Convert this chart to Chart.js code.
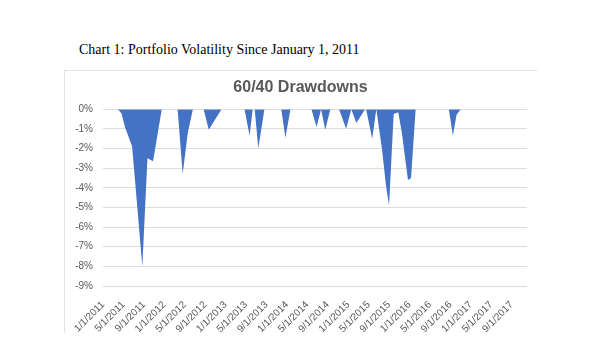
<!DOCTYPE html>
<html>
<head>
<meta charset="utf-8">
<script src="https://cdn.jsdelivr.net/npm/chart.js@4.4.1/dist/chart.umd.min.js"></script>
<style>
    body { margin: 0; background: #fff; }
    #caption {
        position: absolute; left: 79px; top: 42px;
        font-family: "Liberation Serif", "Times New Roman", serif;
        font-size: 14px; color: #000; white-space: nowrap;
    }
    #frame {
        position: absolute; left: 64px; top: 70px; width: 472px; height: 262px;
        border-left: 1px solid #e2e2e2; border-top: 1px solid #e2e2e2;
    }
    #wrap { position: absolute; left: 0; top: 0; width: 595px; height: 360px; }
</style>
</head>
<body>
<div id="caption">Chart 1: Portfolio Volatility Since January 1, 2011</div>
<div id="frame"></div>
<div id="wrap"><canvas id="chart"></canvas></div>
<script>
// x tick labels, every 4 months starting 1/1/2011
const tickLabels = [
    '1/1/2011', '5/1/2011', '9/1/2011', '1/1/2012', '5/1/2012', '9/1/2012',
    '1/1/2013', '5/1/2013', '9/1/2013', '1/1/2014', '5/1/2014', '9/1/2014',
    '1/1/2015', '5/1/2015', '9/1/2015', '1/1/2016', '5/1/2016', '9/1/2016',
    '1/1/2017', '5/1/2017', '9/1/2017'
];

// months elapsed since 1/1/2011 and drawdown (%)
const drawdownMonths = [
    0, 2.9, 3.6, 4.3, 5.7, 7.7, 8.7, 9.8, 11.5,
    14.6, 15.6, 16.6, 17.6,
    19.7, 20.7, 23.2,
    27.7, 28.7, 29.3, 29.7, 30.4, 31.6,
    34.9, 35.7, 36.7,
    40.8, 41.8, 42.7, 42.8, 43.5, 44.5,
    46.2, 47.6, 48.6, 48.7, 49.6, 51.3,
    51.5, 52.7, 53.5,
    53.6, 54.6, 55.4, 56.0, 56.9, 57.8, 58.5, 59.7, 60.3, 61.2,
    67.7, 68.5, 69.2, 70.0,
    83
];
const drawdownPct = [
    0, 0, -0.2, -0.9, -1.9, -8.0, -2.5, -2.65, 0,
    0, -3.3, -1.2, 0,
    0, -1.05, 0,
    0, -1.35, 0, 0, -2.0, 0,
    0, -1.45, 0,
    0, -0.9, 0, 0, -1.05, 0,
    0, -1.0, 0, 0, -0.7, 0,
    0, -1.5, 0,
    0, -2.0, -3.9, -4.9, -0.25, -0.15, -1.2, -3.6, -3.5, 0,
    0, -1.35, -0.3, 0,
    0
];

const yTicks = [0, -1, -2, -3, -4, -5, -6, -7, -8, -9];

const AXIS_GREY = '#595959';
const BLUE = '#4472C4';
const FONT = 'Liberation Sans, Arial, sans-serif';

const points = drawdownMonths.map((m, i) => ({ x: m, y: drawdownPct[i] }));

new Chart(document.getElementById('chart'), {
    type: 'line',
    data: {
        datasets: [{
            label: '60/40',
            data: points,
            fill: 'origin',
            backgroundColor: BLUE,
            borderColor: 'rgba(0,0,0,0)',
            borderWidth: 1,
            pointRadius: 0,
            tension: 0
        }]
    },
    options: {
        responsive: true,
        maintainAspectRatio: false,
        animation: false,
        layout: { padding: { top: 70, left: 74, right: 68, bottom: 0 } },
        plugins: {
            legend: { display: false },
            tooltip: { enabled: false },
            title: {
                display: true,
                text: '60/40 Drawdowns',
                color: AXIS_GREY,
                font: { family: FONT, size: 16, weight: 'bold' },
                padding: { top: 8, bottom: 12 }
            }
        },
        scales: {
            x: {
                type: 'linear',
                min: 0,
                max: 83,
                grid: { display: false },
                border: { display: false },
                afterFit: (scale) => { scale.height = 74; },
                afterBuildTicks: (scale) => {
                    scale.ticks = tickLabels.map((_, i) => ({ value: i * 4 }));
                },
                ticks: {
                    autoSkip: false,
                    minRotation: 45,
                    maxRotation: 45,
                    padding: 5,
                    color: AXIS_GREY,
                    font: { family: FONT, size: 10 },
                    callback: (v) => tickLabels[v / 4] ?? ''
                }
            },
            y: {
                min: -9,
                max: 0,
                afterFit: (scale) => { scale.width = 29; },
                grid: { color: '#dcdcdc', drawTicks: false },
                border: { display: false },
                afterBuildTicks: (scale) => { scale.ticks = yTicks.map(v => ({ value: v })); },
                ticks: {
                    padding: 10,
                    color: AXIS_GREY,
                    font: { family: FONT, size: 10 },
                    callback: (v) => v + '%'
                }
            }
        }
    }
});
</script>
</body>
</html>
